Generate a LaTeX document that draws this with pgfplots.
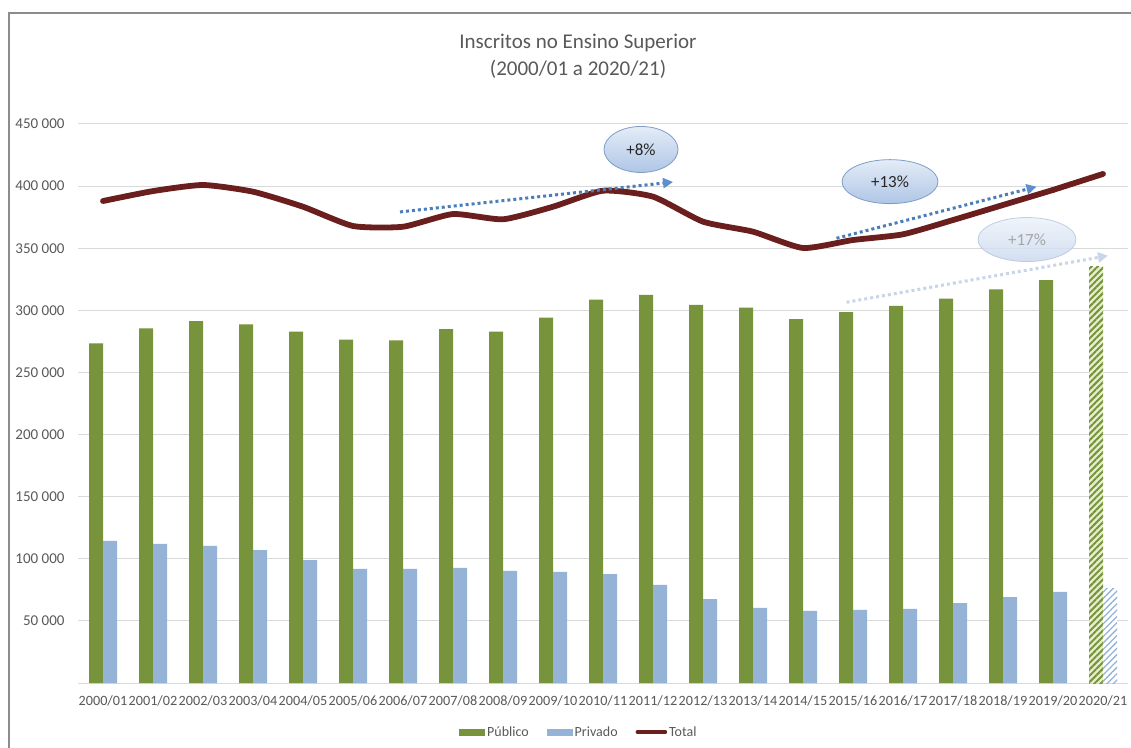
\documentclass[border=0pt]{standalone}
\usepackage{pgfplots}
\pgfplotsset{compat=1.18}
\usepackage{fontspec}
\setmainfont{Carlito}
\usetikzlibrary{patterns.meta, arrows.meta}
\definecolor{pub}{HTML}{77933C}
\definecolor{publight}{HTML}{E6EFCB}
\definecolor{priv}{HTML}{95B3D7}
\definecolor{tot}{HTML}{6B1E1E}
\definecolor{gridc}{HTML}{D9D9D9}
\definecolor{txt}{HTML}{595959}
\definecolor{arr}{HTML}{4A7EBB}
\definecolor{arrtip}{HTML}{5B8FD0}
\definecolor{arrlight}{HTML}{C9D6E8}
\definecolor{elltop}{HTML}{E4ECF7}
\definecolor{ellbot}{HTML}{AFC6E6}
\definecolor{elledge}{HTML}{7F9CC6}

\pgfplotstableread{
x pub priv tot
0  273500 114500 388000
1  285500 111900 396000
2  291400 110300 400900
3  288700 107000 395500
4  282800  99000 383400
5  276400  91800 367900
6  275800  91800 367300
7  284900  92600 377500
8  282800  90200 373300
9  294100  89400 383400
10 308600  87700 396300
11 312400  78900 391500
12 304300  67600 371400
13 302200  60400 363300
14 293000  58000 350200
15 298600  58800 356600
16 303500  59600 361200
17 309400  64400 372700
18 316900  69200 384800
19 324400  73300 396900
}\main

\pgfplotstableread{
x pub priv
20 334900 75700
}\proj

\pgfplotstableread{
x tot
19 396900
20 409800
}\totproj

\begin{document}
\begin{tikzpicture}
\useasboundingbox (0pt,0pt) rectangle (1131pt,747pt);
\fill[white] (0pt,0pt) rectangle (1131pt,747pt);
\draw[black!45, line width=1.5pt] (9pt,-5pt) -- (9pt,734pt) -- (1140pt,734pt);
\node[align=center, font=\fontsize{21}{27}\selectfont, text=txt] at (578pt,691pt) {Inscritos no Ensino Superior\\(2000/01 a 2020/21)};
\begin{axis}[
  at={(78pt,64pt)}, anchor=south west, scale only axis,
  width=1050pt, height=559pt,
  xmin=-0.5, xmax=20.5, ymin=0, ymax=450000,
  clip=false,
  scaled y ticks=false,
  axis line style={draw=none},
  major tick length=0pt,
  ymajorgrids, grid style={gridc, line width=1pt},
  ytick={0,50000,100000,150000,200000,250000,300000,350000,400000,450000},
  yticklabels={,50 000,100 000,150 000,200 000,250 000,300 000,350 000,400 000,450 000},
  xtick={0,...,20},
  xticklabels={2000/01,2001/02,2002/03,2003/04,2004/05,2005/06,2006/07,2007/08,2008/09,2009/10,2010/11,2011/12,2012/13,2013/14,2014/15,2015/16,2016/17,2017/18,2018/19,2019/20,2020/21},
  tick label style={text=txt},
  yticklabel style={font=\fontsize{15}{17}\selectfont, xshift=-10pt},
  xticklabel style={font=\fontsize{14.2}{17}\selectfont, yshift=-9pt},
  legend style={at={(0.477,-0.0877)}, anchor=center, draw=none, fill=none,
    legend columns=3, font=\fontsize{14}{16}\selectfont, text=txt,
    /tikz/every even column/.append style={column sep=16pt}},
]
\addplot[ybar, bar width=14pt, bar shift=-7pt, fill=pub, draw=none,
  legend image code/.code={\fill[pub] (0pt,-3.5pt) rectangle (26pt,3.5pt);}]
  table[x=x, y=pub] {\main};
\addlegendentry{Público}
\addplot[ybar, bar width=14pt, bar shift=7pt, fill=priv, draw=none,
  legend image code/.code={\fill[priv] (0pt,-3.5pt) rectangle (26pt,3.5pt);}]
  table[x=x, y=priv] {\main};
\addlegendentry{Privado}
\addplot[tot, line width=5.8pt, smooth, tension=0.35, line join=round, line cap=round,
  legend image code/.code={\draw[tot, line width=3.5pt] (0pt,0pt) -- (28pt,0pt);}]
  table[x=x, y=tot] {\main};
\addlegendentry{Total}
\addplot[forget plot, ybar, bar width=14pt, bar shift=-7pt, fill=publight, draw=none,
  postaction={pattern={Lines[angle=45,distance=4.5pt,line width=2pt]}, pattern color=pub}]
  table[x=x, y=pub] {\proj};
\addplot[forget plot, ybar, bar width=14pt, bar shift=7pt, fill=white, draw=none,
  postaction={pattern={Lines[angle=45,distance=4.5pt,line width=1.3pt]}, pattern color=priv}]
  table[x=x, y=priv] {\proj};
\addplot[forget plot, tot, line width=5.8pt, line cap=round]
  table[x=x, y=tot] {\totproj};

% arrows
\draw[arr, line width=3pt, dash pattern=on 3pt off 3pt, -{Triangle[length=10pt,width=10pt,fill=arrtip,color=arrtip]}]
  (axis cs:5.94,379200) -- (axis cs:11.4,403300);
\draw[arr, line width=3pt, dash pattern=on 3pt off 3pt, -{Triangle[length=10pt,width=10pt,fill=arrtip,color=arrtip]}]
  (axis cs:14.67,358000) -- (axis cs:18.67,399500);
\draw[arrlight, line width=3pt, dash pattern=on 3pt off 3pt, -{Triangle[length=10pt,width=10pt,fill=arrlight,color=arrlight]}]
  (axis cs:14.87,306500) -- (axis cs:20.1,344000);
% ellipses
\draw[elledge, line width=0.8pt, top color=elltop, bottom color=ellbot]
  (axis cs:10.76,429500) ellipse [x radius=37pt, y radius=23pt];
\node[font=\fontsize{17}{19}\selectfont, text=black!85] at (axis cs:10.76,429500) {+8\%};
\draw[elledge, line width=0.8pt, top color=elltop, bottom color=ellbot]
  (axis cs:15.74,403600) ellipse [x radius=48pt, y radius=22pt];
\node[font=\fontsize{17}{19}\selectfont, text=black!85] at (axis cs:15.74,403600) {+13\%};
\draw[elledge!60, line width=0.8pt, top color=elltop!70, bottom color=ellbot!70, opacity=0.8]
  (axis cs:18.48,357000) ellipse [x radius=49pt, y radius=22pt];
\node[font=\fontsize{17}{19}\selectfont, text=black!35] at (axis cs:18.48,357000) {+17\%};
\end{axis}
\end{tikzpicture}
\end{document}
